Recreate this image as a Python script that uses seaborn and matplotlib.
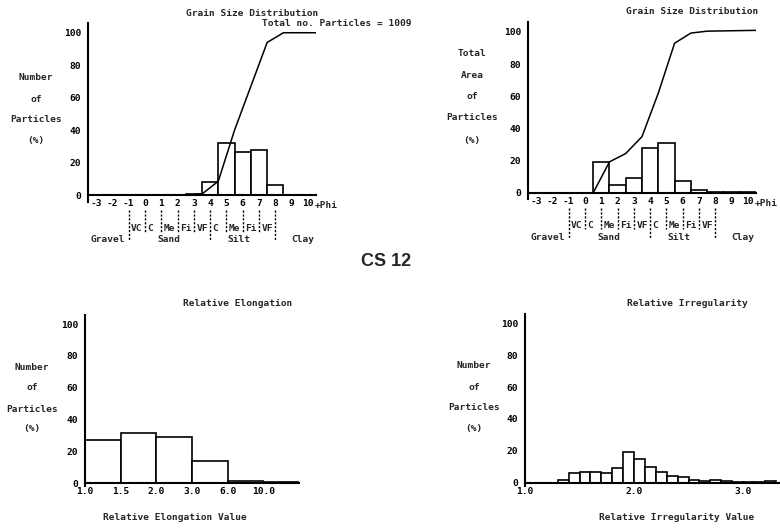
import numpy as np
import pandas as pd
import matplotlib.pyplot as plt
import seaborn as sns

# values
phi = [-3, -2, -1, 0, 1, 2, 3, 4, 5, 6, 7, 8, 9, 10]
number_pct = [0, 0, 0, 0, 0, 0, 0.6, 8.2, 32, 26.2, 27.8, 6.2, 0, 0]
area_pct = [0, 0, 0, 0, 19.3, 5.2, 9.6, 28, 30.8, 7.3, 2.1, 0.5, 0.5, 0.5]

# cumulative curves, taken at the upper bin edges
number_cum_x = [-3.5, 2.5, 3.5, 4.5, 5.5, 6.5, 7.5, 8.5, 10.5]
number_cum = [0, 0, 0.6, 8.5, 40, 67, 94, 100, 100]
area_cum_x = [-3.5, 0.5, 1.5, 2.5, 3.5, 4.5, 5.5, 6.5, 7.5, 10.5]
area_cum = [0, 0, 19.3, 24.5, 35, 62, 93, 99.3, 100.5, 101]

elong_labels = ['1.0', '1.5', '2.0', '3.0', '6.0', '10.0']
elong_pct = [27.2, 31.4, 29, 13.6, 1, 0.4]

irr_start = [1.0, 1.1, 1.2, 1.3, 1.4, 1.5, 1.6, 1.7, 1.8, 1.9, 2.0, 2.1,
             2.2, 2.3, 2.4, 2.5, 2.6, 2.7, 2.8, 2.9, 3.0, 3.1, 3.2]
irr_pct = [0, 0, 0, 1.7, 5.9, 6.5, 6.5, 5.8, 9, 19, 14.8, 9.8,
           6.5, 4.3, 3.3, 1.7, 0.8, 1.7, 0.8, 0.2, 0.2, 0.2, 1.1]

sub_classes = ['VC', 'C', 'Me', 'Fi', 'VF', 'C', 'Me', 'Fi', 'VF']
sub_bounds = [-1, 0, 1, 2, 3, 4, 5, 6, 7]
major_bounds = [-1, 4, 8]
minor_bounds = [0, 1, 2, 3, 5, 6, 7]

sns.set_style('white')
plt.rcParams['font.family'] = ['DejaVu Sans Mono']
plt.rcParams['font.weight'] = 'bold'
FS = 6.8

fig = plt.figure(figsize=(7.8, 5.28), dpi=100)
W, H = 780, 528


def px_axes(left, top, right, bottom):
    return fig.add_axes([left / W, 1 - bottom / H, (right - left) / W, (bottom - top) / H])


def ftext(x, y, s, **kw):
    kw.setdefault('ha', 'center')
    fig.text(x / W, 1 - y / H, s, va='center', fontsize=FS, fontweight='bold', **kw)


def hist(ax, x, w, edges):
    d = pd.DataFrame({'x': x, 'w': w})
    sns.histplot(data=d, x='x', weights='w', bins=list(edges), ax=ax, color='white',
                 edgecolor='black', linewidth=1.2, alpha=1)


def style(ax):
    sns.despine(ax=ax)
    ax.spines['bottom'].set_position(('data', 0))
    for s in ['left', 'bottom']:
        ax.spines[s].set_linewidth(1.5)
        ax.spines[s].set_color('black')
    ax.set_yticks([0, 20, 40, 60, 80, 100])
    ax.set_yticklabels(['0', '20', '40', '60', '80', '100'])
    ax.tick_params(axis='y', direction='out', length=3, width=1.2, pad=2, labelsize=FS, colors='black')
    ax.tick_params(axis='x', length=0, pad=3, labelsize=FS, colors='black')
    ax.set_xlabel('')
    ax.set_ylabel('')


def grain_panel(ax, values, cx, cy):
    edges = np.append(np.array(phi) - 0.5, phi[-1] + 0.5)
    hist(ax, phi, values, edges)
    sns.lineplot(x=cx, y=cy, ax=ax, color='black', linewidth=1.1, estimator=None, sort=False)
    ax.set_xlim(-3.5, 10.5)
    ax.set_ylim(-4, 106)
    style(ax)
    ax.set_xticks(phi)
    ax.set_xticklabels([str(p) for p in phi])
    ax.text(11.1, -6.5, '+Phi', fontsize=FS, fontweight='bold', ha='center', va='center')
    dash = (0, (1.6, 1.2))
    ax.vlines(major_bounds, -9.5, -28.5, colors='black', linewidth=1, linestyles=dash, clip_on=False)
    ax.vlines(minor_bounds, -9.5, -22.5, colors='black', linewidth=1, linestyles=dash, clip_on=False)
    for b, lab in zip(sub_bounds, sub_classes):
        ax.text(b + 0.15, -20.4, lab, fontsize=FS, fontweight='bold', ha='left', va='center')
    ax.text(-1.2, -27.4, 'Gravel', fontsize=FS, fontweight='bold', ha='right', va='center')
    ax.text(1.5, -27.4, 'Sand', fontsize=FS, fontweight='bold', ha='center', va='center')
    ax.text(5.75, -27.4, 'Silt', fontsize=FS, fontweight='bold', ha='center', va='center')
    ax.text(9.7, -27.4, 'Clay', fontsize=FS, fontweight='bold', ha='center', va='center')


# top left: number of particles
ax1 = px_axes(88, 23, 316, 201.5)
grain_panel(ax1, number_pct, number_cum_x, number_cum)
ftext(252, 13, 'Grain Size Distribution')
ftext(262, 23, 'Total no. Particles = 1009', ha='left')
for y, s in zip([78, 99, 119, 140], ['Number', 'of', 'Particles', '(%)']):
    ftext(36, y, s)

# top right: total area
ax2 = px_axes(528, 22.3, 756, 199.4)
grain_panel(ax2, area_pct, area_cum_x, area_cum)
ftext(692, 12, 'Grain Size Distribution')
for y, s in zip([54, 75, 96, 118, 140], ['Total', 'Area', 'of', 'Particles', '(%)']):
    ftext(472, y, s)

fig.text(386 / W, 1 - 262 / H, 'CS 12', family='Liberation Sans', fontweight='bold',
         fontsize=13, ha='center', va='center')

# bottom left: relative elongation
ax3 = px_axes(85, 314.5, 299, 486.2)
pos = np.arange(len(elong_pct)) + 0.5
hist(ax3, pos, elong_pct, np.arange(len(elong_pct) + 1))
ax3.set_xlim(0, len(elong_pct))
ax3.set_ylim(-2, 106)
style(ax3)
ax3.set_xticks(np.arange(len(elong_labels)))
ax3.set_xticklabels(elong_labels)
ftext(238, 303, 'Relative Elongation')
ftext(175, 518, 'Relative Elongation Value')
for y, s in zip([368, 388, 409, 429], ['Number', 'of', 'Particles', '(%)']):
    ftext(32, y, s)

# bottom right: relative irregularity
ax4 = px_axes(525, 313.7, 779, 485.9)
hist(ax4, np.array(irr_start) + 0.05, irr_pct, irr_start + [3.3])
ax4.set_xlim(1.0, 3.33)
ax4.set_ylim(-2, 106)
style(ax4)
ax4.set_xticks([1.0, 2.0, 3.0])
ax4.set_xticklabels(['1.0', '2.0', '3.0'])
ftext(687, 303, 'Relative Irregularity')
ftext(677, 518, 'Relative Irregularity Value')
for y, s in zip([366, 387, 408, 429], ['Number', 'of', 'Particles', '(%)']):
    ftext(474, y, s)

fig.savefig('out.png', dpi=100)
